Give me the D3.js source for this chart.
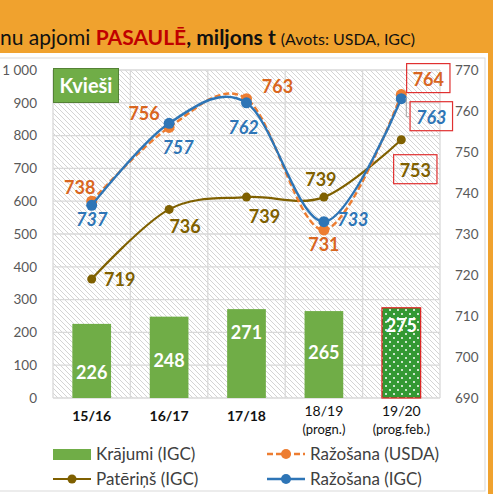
<!DOCTYPE html>
<html>
<head>
<meta charset="utf-8">
<script src="https://cdn.jsdelivr.net/npm/d3@7/dist/d3.min.js"></script>
<style>
  html, body { margin: 0; padding: 0; background: #F0A22E; }
  svg { display: block; font-family: Lato, "Open Sans", sans-serif; }
</style>
</head>
<body>
<div id="chart"></div>
<script>
// dati
const seasons = ["15/16", "16/17", "17/18", "18/19", "19/20"];
const seasonNotes = ["", "", "", "(progn.)", "(prog.feb.)"];
const stocksIGC = [226, 248, 271, 265, 275];
const prodUSDA = [738, 756, 763, 731, 764];
const prodIGC = [737, 757, 762, 733, 763];
const consIGC = [719, 736, 739, 739, 753];
const leftTicks = [0, 100, 200, 300, 400, 500, 600, 700, 800, 900, 1000];
const rightTicks = [690, 700, 710, 720, 730, 740, 750, 760, 770];

const W = 493, H = 494;
const m = { left: 53, right: 440, top: 70, bottom: 398 };

const svg = d3.select("#chart").append("svg")
    .attr("width", W).attr("height", H);

const defs = svg.append("defs");
// slīpā svītrojuma fons
const hatch = defs.append("pattern")
    .attr("id", "hatch").attr("patternUnits", "userSpaceOnUse")
    .attr("width", 5).attr("height", 5);
hatch.append("rect").attr("width", 5).attr("height", 5).attr("fill", "#fff");
hatch.append("path")
    .attr("d", "M-1,-1 L6,6 M-1,4 L1,6 M4,-1 L6,1")
    .attr("stroke", "#CFCFCF").attr("stroke-width", 0.9);
// punktots pildījums prognozes stabiņam
const dots = defs.append("pattern")
    .attr("id", "dots").attr("patternUnits", "userSpaceOnUse")
    .attr("width", 8).attr("height", 8);
dots.append("rect").attr("width", 8).attr("height", 8).attr("fill", "#339933");
dots.append("circle").attr("cx", 2).attr("cy", 2).attr("r", 1).attr("fill", "#fff");
dots.append("circle").attr("cx", 6).attr("cy", 6).attr("r", 1).attr("fill", "#fff");

// balts panelis
svg.append("rect").attr("x", 0).attr("y", 53).attr("width", 488).attr("height", H - 53).attr("fill", "#fff");
svg.append("rect").attr("x", -2).attr("y", 58).attr("width", 487).attr("height", 433)
    .attr("fill", "none").attr("stroke", "#D9D9D9");

// virsraksts
const title = svg.append("text").attr("x", 0).attr("y", 45).attr("font-size", 21).attr("fill", "#111");
title.append("tspan").text("nu apjomi ");
title.append("tspan").attr("font-weight", "bold").attr("fill", "#C00000").text("PASAULĒ");
title.append("tspan").attr("font-weight", "bold").text(", miljons t ");
title.append("tspan").attr("font-size", 16).text("(Avots: USDA, IGC)");

const x = d3.scaleBand().domain(seasons).range([m.left, m.right]).paddingInner(0.5).paddingOuter(0.25);
const xs = d3.scaleBand().domain(seasons).range([m.left, m.right]);
const yL = d3.scaleLinear().domain([0, 1000]).range([m.bottom, m.top]);
const yR = d3.scaleLinear().domain([690, 770]).range([m.bottom, m.top]);
const cx = d => xs(d) + xs.bandwidth() / 2;

// plot laukums
svg.append("rect").attr("x", m.left).attr("y", m.top)
    .attr("width", m.right - m.left).attr("height", m.bottom - m.top)
    .attr("fill", "url(#hatch)");

const grid = svg.append("g").attr("stroke", "#D9D9D9").attr("stroke-width", 1.3);
grid.selectAll("line.h").data(leftTicks).join("line")
    .attr("x1", m.left).attr("x2", m.right)
    .attr("y1", d => yL(d)).attr("y2", d => yL(d));
grid.selectAll("line.v").data(seasons.concat(["end"])).join("line")
    .attr("x1", (d, i) => m.left + i * xs.step()).attr("x2", (d, i) => m.left + i * xs.step())
    .attr("y1", m.top).attr("y2", m.bottom);

// asis
const fmt = d3.formatLocale({ decimal: ",", thousands: " ", grouping: [3], currency: ["", ""] }).format(",");
const axL = svg.append("g").attr("transform", `translate(${m.left},0)`)
    .call(d3.axisLeft(yL).tickValues(leftTicks).tickFormat(fmt).tickSize(0).tickPadding(16));
const axR = svg.append("g").attr("transform", `translate(${m.right},0)`)
    .call(d3.axisRight(yR).tickValues(rightTicks).tickSize(0).tickPadding(15));
[axL, axR].forEach(a => {
    a.select(".domain").remove();
    a.selectAll("text").attr("font-size", 13.5).attr("fill", "#595959").attr("font-family", "Lato, sans-serif");
});

// x asu etiķetes
const xl = svg.append("g");
seasons.forEach((s, i) => {
    const t = xl.append("text").attr("x", cx(s)).attr("text-anchor", "middle").attr("fill", "#111");
    if (seasonNotes[i]) {
        t.attr("y", 416).attr("font-size", 14).text(s);
        xl.append("text").attr("x", cx(s)).attr("y", 434).attr("text-anchor", "middle")
            .attr("font-size", 13).attr("fill", "#111").text(seasonNotes[i]);
    } else {
        t.attr("y", 421).attr("font-size", 14).attr("font-weight", "bold").text(s);
    }
});

// stabiņi - krājumi
svg.append("g").selectAll("rect").data(stocksIGC).join("rect")
    .attr("x", (d, i) => x(seasons[i]))
    .attr("y", d => yL(d))
    .attr("width", x.bandwidth())
    .attr("height", d => yL(0) - yL(d))
    .attr("fill", (d, i) => i === 4 ? "url(#dots)" : "#70AD47")
    .attr("stroke", (d, i) => i === 4 ? "#E02020" : "none")
    .attr("stroke-width", 1.2);

const barNudge = [12, 4, -21, -2, -27];
svg.append("g").selectAll("text").data(stocksIGC).join("text")
    .attr("x", (d, i) => cx(seasons[i]))
    .attr("y", (d, i) => (yL(d) + yL(0)) / 2 + 6 + barNudge[i])
    .attr("text-anchor", "middle").attr("font-size", 18).attr("font-weight", "bold")
    .attr("fill", "#fff").text(d => d);

// līnijas
const line = d3.line().x((d, i) => cx(seasons[i])).y(d => yR(d)).curve(d3.curveCardinal.tension(0));

svg.append("path").datum(consIGC).attr("d", line)
    .attr("fill", "none").attr("stroke", "#7F6000").attr("stroke-width", 2.2);
svg.append("g").selectAll("circle").data(consIGC).join("circle")
    .attr("cx", (d, i) => cx(seasons[i])).attr("cy", d => yR(d)).attr("r", 4.5).attr("fill", "#7F6000");

svg.append("path").datum(prodUSDA).attr("d", line)
    .attr("fill", "none").attr("stroke", "#ED7D31").attr("stroke-width", 2.4).attr("stroke-dasharray", "6,3");
svg.append("g").selectAll("circle").data(prodUSDA).join("circle")
    .attr("cx", (d, i) => cx(seasons[i])).attr("cy", d => yR(d)).attr("r", 5.5).attr("fill", "#ED7D31");

svg.append("path").datum(prodIGC).attr("d", line)
    .attr("fill", "none").attr("stroke", "#2E75B6").attr("stroke-width", 2.4);
svg.append("g").selectAll("circle").data(prodIGC).join("circle")
    .attr("cx", (d, i) => cx(seasons[i])).attr("cy", d => yR(d)).attr("r", 5.5).attr("fill", "#2E75B6");

// savienotājlīnija uz 763 etiķeti
const lx = cx(seasons[4]);
svg.append("path")
    .attr("d", `M${lx + 4},${yR(prodIGC[4])} H${lx + 5} V${yR(prodIGC[4]) + 18} H${lx + 8}`)
    .attr("fill", "none").attr("stroke", "#A6A6A6").attr("stroke-width", 1);

// datu etiķetes
function labels(data, color, off, italic) {
    const g = svg.append("g");
    data.forEach((d, i) => {
        const t = g.append("text")
            .attr("x", cx(seasons[i]) + off[i][0])
            .attr("y", yR(d) + off[i][1] + 6)
            .attr("text-anchor", "middle").attr("font-size", 18).attr("font-weight", "bold")
            .attr("font-style", italic ? "italic" : "normal")
            .attr("fill", color).text(d);
        if (i === 4) {
            const b = t.node().getBBox();
            g.append("rect").attr("x", b.x - 6).attr("y", b.y - 4)
                .attr("width", b.width + 12).attr("height", b.height + 7)
                .attr("fill", "none").attr("stroke", "#E03030").attr("stroke-width", 1.2);
        }
    });
}
labels(prodUSDA, "#D9661F", [[-12, -13], [-25, -13], [31, -12], [0, 15], [27, -15]], false);
labels(prodIGC, "#2E75B6", [[0, 15], [9, 25], [-3, 25], [29, -2], [30, 19]], true);
labels(consIGC, "#7F6000", [[28, 1], [16, 18], [18, 20], [-3, -17], [14, 31]], false);

// Kvieši
svg.append("rect").attr("x", 53.5).attr("y", 68.5).attr("width", 65).attr("height", 34)
    .attr("fill", "#70AD47").attr("stroke", "#548235").attr("stroke-width", 1);
svg.append("text").attr("x", 86).attr("y", 93).attr("text-anchor", "middle")
    .attr("font-size", 20).attr("font-weight", "bold").attr("fill", "#fff").text("Kvieši");

// leģenda
const leg = svg.append("g").attr("font-size", 17).attr("fill", "#404040");
leg.append("rect").attr("x", 53).attr("y", 449).attr("width", 38).attr("height", 11).attr("fill", "#70AD47");
leg.append("text").attr("x", 96).attr("y", 460).text("Krājumi (IGC)");
leg.append("line").attr("x1", 267).attr("x2", 305).attr("y1", 454).attr("y2", 454)
    .attr("stroke", "#ED7D31").attr("stroke-width", 2.4).attr("stroke-dasharray", "6,3");
leg.append("circle").attr("cx", 286).attr("cy", 454).attr("r", 5).attr("fill", "#ED7D31");
leg.append("text").attr("x", 310).attr("y", 460).text("Ražošana (USDA)");
leg.append("line").attr("x1", 53).attr("x2", 91).attr("y1", 479).attr("y2", 479)
    .attr("stroke", "#7F6000").attr("stroke-width", 2.2);
leg.append("circle").attr("cx", 72).attr("cy", 479).attr("r", 4.5).attr("fill", "#7F6000");
leg.append("text").attr("x", 96).attr("y", 485).text("Patēriņš (IGC)");
leg.append("line").attr("x1", 267).attr("x2", 305).attr("y1", 479).attr("y2", 479)
    .attr("stroke", "#2E75B6").attr("stroke-width", 2.4);
leg.append("circle").attr("cx", 286).attr("cy", 479).attr("r", 5).attr("fill", "#2E75B6");
leg.append("text").attr("x", 310).attr("y", 485).text("Ražošana (IGC)");
</script>
</body>
</html>
